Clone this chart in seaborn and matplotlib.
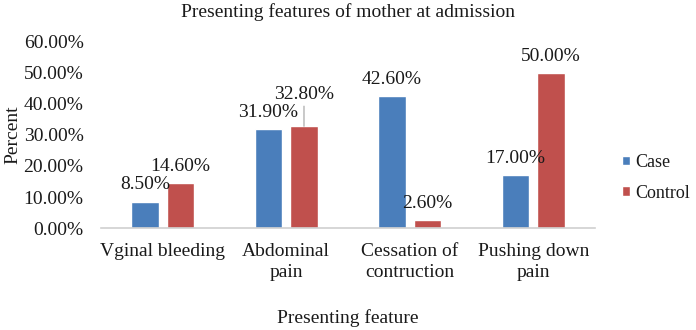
import matplotlib
matplotlib.use("Agg")
import matplotlib.pyplot as plt
import seaborn as sns
import pandas as pd
from matplotlib.ticker import FuncFormatter

categories = ["Vginal bleeding", "Abdominal\npain", "Cessation of\ncontruction", "Pushing down\npain"]
case_values = [8.5, 31.9, 42.6, 17.0]
control_values = [14.6, 32.8, 2.6, 50.0]
series_names = ["Case", "Control"]
y_ticks = [0, 10, 20, 30, 40, 50, 60]

df = pd.DataFrame({
    "feature": categories * 2,
    "group": [series_names[0]] * len(categories) + [series_names[1]] * len(categories),
    "value": case_values + control_values,
})

sns.set_theme(style="white")
plt.rcParams["font.family"] = ["Liberation Serif", "DejaVu Serif"]
text_color = "#1a1a1a"
fs = 14

fig = plt.figure(figsize=(6.96, 3.30), dpi=100)
ax = fig.add_axes([0.145, 0.309, 0.71, 0.564])

sns.barplot(data=df, x="feature", y="value", hue="group", order=categories,
            hue_order=series_names, palette=["#4a7ebb", "#c0504d"], saturation=1,
            width=0.575, gap=0.225, ax=ax, legend=True)

ax.set_ylim(0, 60)
ax.set_yticks(y_ticks)
ax.yaxis.set_major_formatter(FuncFormatter(lambda v, p: f"{v:.2f}%"))
ax.tick_params(axis="both", length=0, labelsize=fs, colors=text_color)
ax.tick_params(axis="y", pad=12.5)
ax.tick_params(axis="x", pad=11)
for lbl in ax.get_xticklabels():
    lbl.set_linespacing(1.28)
for s in ["top", "right", "left"]:
    ax.spines[s].set_visible(False)
ax.spines["bottom"].set_color("#d0d0d0")
ax.spines["bottom"].set_linewidth(1.2)
ax.grid(False)

ax.set_xlabel("Presenting feature", fontsize=fs, color=text_color, labelpad=20)
ax.set_ylabel("Percent", fontsize=fs, color=text_color)
ax.yaxis.set_label_coords(-0.16, 0.5)
ax.set_title("Presenting features of mother at admission", fontsize=fs,
             color=text_color, pad=18)

for ci, cont in enumerate(ax.containers):
    for bi, bar in enumerate(cont):
        h = bar.get_height()
        xc = bar.get_x() + bar.get_width() / 2
        if ci == 1 and bi == 1:
            ax.annotate(f"{h:.2f}%", xy=(xc, h), xytext=(0, 23), textcoords="offset points",
                        ha="center", va="center", fontsize=fs, color=text_color)
            ax.annotate("", xy=(xc, h), xytext=(0, 14.5), textcoords="offset points",
                        arrowprops=dict(arrowstyle="-", color="#a0a0a0", lw=0.8,
                                        shrinkA=0, shrinkB=0))
        else:
            ax.annotate(f"{h:.2f}%", xy=(xc, h), xytext=(0, 12), textcoords="offset points",
                        ha="center", va="center", fontsize=fs, color=text_color)

leg = ax.legend(loc="center left", bbox_to_anchor=(1.04, 0.27), frameon=False,
                fontsize=13, handlelength=0.45, handleheight=0.45, handletextpad=0.3,
                labelspacing=0.75, borderaxespad=0)
for t in leg.get_texts():
    t.set_color(text_color)

fig.savefig("out.png", dpi=100)
